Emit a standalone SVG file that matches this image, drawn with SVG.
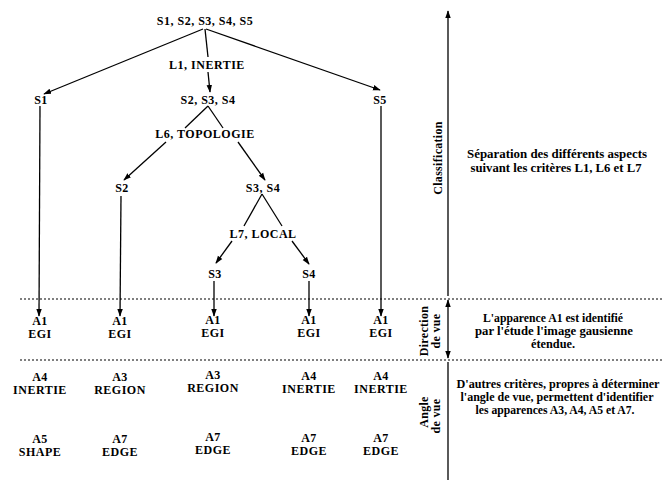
<svg xmlns="http://www.w3.org/2000/svg" width="663" height="483" viewBox="0 0 663 483">
<defs>
<marker id="ah" viewBox="0 0 10 10" refX="9" refY="5" markerWidth="6" markerHeight="6" orient="auto-start-reverse"><path d="M0,1.5 L10,5 L0,8.5 z" fill="#000"/></marker>
<style>
text{font-family:"Liberation Serif","Times New Roman",serif;font-weight:bold;font-size:12px;letter-spacing:0.5px;fill:#000;text-anchor:middle}
.note{font-size:11.5px;letter-spacing:0}
.ax{font-size:12px;letter-spacing:0.3px}
.l{stroke:#000;stroke-width:1.3;fill:none}
.a{stroke:#000;stroke-width:1.3;fill:none;marker-end:url(#ah)}
.d{stroke:#000;stroke-width:1.2;stroke-dasharray:2,2;fill:none}
</style>
</defs>
<rect width="663" height="483" fill="#fff"/>
<g id="connectors">
<path class="a" d="M203,29 L44,94"/>
<path class="a" d="M206,29 L380,90"/>
<path class="l" d="M205,29 L208,57"/>
<path class="a" d="M208,72 L210,92"/>
<path class="l" d="M208,106 L185,128"/>
<path class="l" d="M208,106 L223,128"/>
<path class="a" d="M166,142 L124,180"/>
<path class="a" d="M238,142 L265,180"/>
<path class="l" d="M262,194 L244,226"/>
<path class="l" d="M262,194 L282,226"/>
<path class="a" d="M232,241 L216,263"/>
<path class="a" d="M292,241 L309,264"/>
<path class="a" d="M40,106 L39,316"/>
<path class="a" d="M121,196 L120,316"/>
<path class="a" d="M214,281 L214,316"/>
<path class="a" d="M309,281 L309,316"/>
<path class="a" d="M381,106 L381,316"/>
</g>
<g id="separators">
<path class="d" d="M20,299 H663"/>
<path class="d" d="M20,360 H663"/>
<path class="a" d="M448,296 L448,11"/>
<path class="a" d="M448,300 L448,358" style="marker-start:url(#ah)"/>
<path class="l" d="M448,362 L448,480"/>
</g>
<g id="n-root"><text x="205" y="25">S1, S2, S3, S4, S5</text></g>
<g id="n-l1"><text x="207" y="69">L1, INERTIE</text></g>
<g id="n-s234"><text x="208" y="104">S2, S3, S4</text></g>
<g id="n-l6"><text x="205" y="138">L6, TOPOLOGIE</text></g>
<g id="n-s1"><text x="41" y="104">S1</text></g>
<g id="n-s5"><text x="380" y="104">S5</text></g>
<g id="n-s2"><text x="122" y="192">S2</text></g>
<g id="n-s34"><text x="263" y="192">S3, S4</text></g>
<g id="n-l7"><text x="263" y="238">L7, LOCAL</text></g>
<g id="n-s3"><text x="215" y="278">S3</text></g>
<g id="n-s4"><text x="309" y="278">S4</text></g>
<g id="row-a1">
<text x="40" y="325">A1</text><text x="40" y="338">EGI</text>
<text x="120" y="325">A1</text><text x="120" y="338">EGI</text>
<text x="213" y="324">A1</text><text x="213" y="337">EGI</text>
<text x="309" y="324">A1</text><text x="309" y="337">EGI</text>
<text x="381" y="324">A1</text><text x="381" y="337">EGI</text>
</g>
<g id="row-a34">
<text x="40" y="381">A4</text><text x="40" y="394">INERTIE</text>
<text x="120" y="381">A3</text><text x="120" y="394">REGION</text>
<text x="213" y="379">A3</text><text x="213" y="392">REGION</text>
<text x="309" y="380">A4</text><text x="309" y="393">INERTIE</text>
<text x="381" y="380">A4</text><text x="381" y="393">INERTIE</text>
</g>
<g id="row-a57">
<text x="40" y="443">A5</text><text x="40" y="456">SHAPE</text>
<text x="120" y="443">A7</text><text x="120" y="456">EDGE</text>
<text x="213" y="441">A7</text><text x="213" y="454">EDGE</text>
<text x="309" y="442">A7</text><text x="309" y="455">EDGE</text>
<text x="381" y="442">A7</text><text x="381" y="455">EDGE</text>
</g>
<g id="axis-labels">
<text class="ax" transform="translate(442,158) rotate(-90)">Classification</text>
<text class="ax" transform="translate(428,331) rotate(-90)">Direction</text>
<text class="ax" transform="translate(440,331) rotate(-90)">de vue</text>
<text class="ax" transform="translate(428,412) rotate(-90)">Angle</text>
<text class="ax" transform="translate(440,416) rotate(-90)">de vue</text>
</g>
<g id="notes">
<text class="note" x="557" y="158" textLength="180" lengthAdjust="spacingAndGlyphs">Séparation des différents aspects</text>
<text class="note" x="556" y="172" textLength="171" lengthAdjust="spacingAndGlyphs">suivant les critères L1, L6 et L7</text>
<text class="note" x="553" y="322" textLength="140" lengthAdjust="spacingAndGlyphs">L'apparence A1 est identifié</text>
<text class="note" x="554" y="335" textLength="158" lengthAdjust="spacingAndGlyphs">par l'étude l'image gausienne</text>
<text class="note" x="553" y="348" textLength="44" lengthAdjust="spacingAndGlyphs">étendue.</text>
<text class="note" x="558" y="388" textLength="203" lengthAdjust="spacingAndGlyphs">D'autres critères, propres à déterminer</text>
<text class="note" x="557" y="401" textLength="193" lengthAdjust="spacingAndGlyphs">l'angle de vue, permettent d'identifier</text>
<text class="note" x="555" y="414" textLength="159" lengthAdjust="spacingAndGlyphs">les apparences A3, A4, A5 et A7.</text>
</g>
</svg>
